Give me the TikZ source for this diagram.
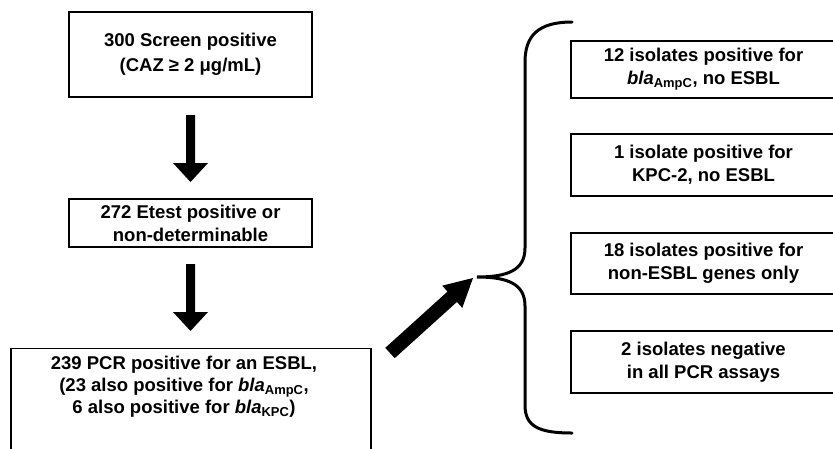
\documentclass[tikz,border=0pt]{standalone}
\usepackage{fontspec}
\setmainfont{Liberation Sans}
\usetikzlibrary{calc}
\newcommand\blagene[1]{\textit{bla}\textsubscript{\upshape #1}}
\newcommand\fatarrow[5]{% start, end, shaft half width, head half width, head length
  \coordinate (fa-b) at ($(#2)!#5!(#1)$);
  \fill[black] ($(#1)!#3!90:(#2)$) -- ($(fa-b)!#3!90:(#2)$) -- ($(fa-b)!#4!90:(#2)$) -- (#2)
    -- ($(fa-b)!#4!-90:(#2)$) -- ($(fa-b)!#3!-90:(#2)$) -- ($(#1)!#3!-90:(#2)$) -- cycle;}
\begin{document}
\begin{tikzpicture}[x=1pt,y=-1pt,
  box/.style={draw=black,line width=1.1pt,align=center,inner sep=0pt,
    font=\fontsize{18.5}{23}\selectfont\bfseries},
  txt/.style={align=center,inner sep=0pt,font=\fontsize{18.5}{22}\selectfont\bfseries}]
\useasboundingbox (0,0) rectangle (833,448);
\clip (0,0) rectangle (833,448);
% left column
\node[box,minimum width=243pt,minimum height=85pt,font=\fontsize{18.5}{25}\selectfont\bfseries] (b1) at (190.5,54.5)
  {300 Screen positive\\(CAZ ≥ 2 μg/mL)};
\node[box,minimum width=243pt,minimum height=48pt] (b2) at (190.5,223)
  {272 Etest positive or\\non-determinable};
\node[draw=black,line width=1.1pt,minimum width=360pt,minimum height=130pt,anchor=north] (b3) at (191,348) {};
\node[txt] (t3) at (184,387)
  {239 PCR positive for an ESBL,\\(23 also positive for \blagene{AmpC},\\6 also positive for \blagene{KPC})};
% right column
\node[box,minimum width=265pt,minimum height=57pt] (r1) at (703.5,69.5)
  {12 isolates positive for\\\blagene{AmpC}, no ESBL};
\node[box,minimum width=265pt,minimum height=62pt] (r2) at (703.5,165)
  {1 isolate positive for\\KPC-2, no ESBL};
\node[box,minimum width=265pt,minimum height=61pt] (r3) at (703.5,263.5)
  {18 isolates positive for\\non-ESBL genes only};
\node[box,minimum width=265pt,minimum height=62pt] (r4) at (703.5,362)
  {2 isolates negative\\in all PCR assays};
% brace
\coordinate (brtop) at (572,22);
\coordinate (brtip) at (477,277);
\coordinate (brbot) at (572,433);
\draw[line width=3pt,line cap=round] (brtop) .. controls (538,22) and (525,36) .. (525,62)
  -- (525,248) .. controls (525,270) and (508,277) .. (brtip)
  .. controls (508,277) and (525,284) .. (525,306)
  -- (525,405) .. controls (525,426) and (538,433) .. (brbot);
% arrows
\coordinate (a1s) at (190.5,115);
\coordinate (a1e) at (190.5,182);
\coordinate (a2s) at (190.5,264);
\coordinate (a2e) at (190.5,331);
\coordinate (a3s) at (390,353);
\coordinate (a3e) at (473,278);
\fatarrow{a1s}{a1e}{4.5pt}{17.5pt}{19pt}
\fatarrow{a2s}{a2e}{4.5pt}{17.5pt}{19pt}
\fatarrow{a3s}{a3e}{7pt}{15pt}{28pt}
\end{tikzpicture}
\end{document}
